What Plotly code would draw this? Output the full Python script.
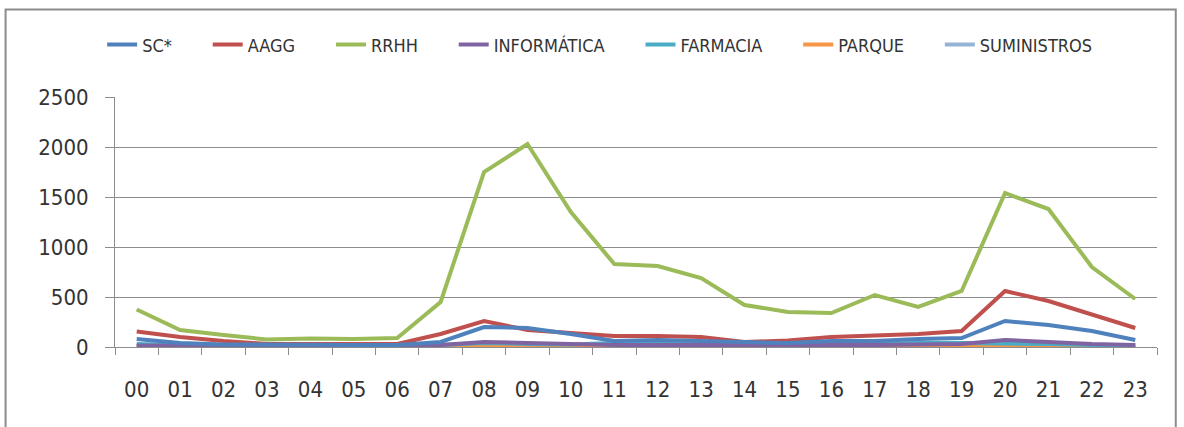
import plotly.graph_objects as go

# horas del día
horas = ['00', '01', '02', '03', '04', '05', '06', '07', '08', '09', '10', '11',
         '12', '13', '14', '15', '16', '17', '18', '19', '20', '21', '22', '23']

# valores
sc = [80, 40, 25, 20, 20, 20, 20, 50, 200, 190, 130, 60,
      70, 60, 40, 40, 60, 60, 80, 90, 260, 220, 160, 70]
aagg = [155, 100, 60, 30, 30, 30, 30, 130, 260, 170, 140, 110,
        110, 100, 50, 65, 100, 110, 130, 160, 560, 460, 330, 190]
rrhh = [375, 170, 120, 75, 85, 80, 90, 450, 1750, 2030, 1350, 830,
        810, 690, 420, 350, 340, 520, 400, 560, 1540, 1380, 800, 480]
informatica = [15, 10, 8, 5, 5, 5, 5, 20, 50, 40, 30, 20,
               20, 20, 10, 15, 20, 20, 25, 30, 70, 45, 30, 20]
farmacia = [30, 15, 10, 8, 8, 8, 8, 20, 40, 30, 25, 40,
            50, 40, 20, 20, 30, 30, 40, 40, 40, 30, 20, 15]
parque = [5, 3, 2, 2, 2, 2, 2, 5, 10, 10, 8, 6,
          6, 6, 4, 4, 5, 5, 6, 8, 12, 10, 8, 5]
suministros = [10, 5, 4, 3, 3, 3, 3, 8, 15, 12, 10, 8,
               8, 8, 5, 6, 8, 8, 10, 10, 15, 12, 10, 8]

series = [
    ('SC*', sc, '#4F81BD'),
    ('AAGG', aagg, '#C0504D'),
    ('RRHH', rrhh, '#9BBB59'),
    ('INFORMÁTICA', informatica, '#8064A2'),
    ('FARMACIA', farmacia, '#4BACC6'),
    ('PARQUE', parque, '#F79646'),
    ('SUMINISTROS', suministros, '#95B3D7'),
]

FUENTE = 'DejaVu Sans Condensed, Roboto, sans-serif'
ESPACIO = '\u00a0' * 6

fig = go.Figure()
# dibujar en orden inverso para que SC*/AAGG/RRHH queden encima
for nombre, valores, color in reversed(series):
    fig.add_trace(go.Scatter(
        x=horas, y=valores, name=nombre + ESPACIO, mode='lines',
        line=dict(color=color, width=4),
    ))

fig.update_layout(
    width=1184, height=427,
    margin=dict(l=115, r=27, t=97, b=80),
    paper_bgcolor='white', plot_bgcolor='white',
    font=dict(family=FUENTE, color='#222222'),
    showlegend=True,
    legend=dict(orientation='h', x=0.48, xanchor='center', yref='container',
                y=0.895, yanchor='middle', traceorder='reversed',
                bgcolor='rgba(0,0,0,0)',
                font=dict(size=18, color='#333333'), tracegroupgap=0),
    xaxis=dict(type='category', range=[-0.5, 23.5], showgrid=False, showline=True,
               linecolor='#8c8c8c', linewidth=1, ticks='outside',
               tickson='boundaries', ticklen=7, tickcolor='#8c8c8c',
               tickfont=dict(size=22, family=FUENTE, color='#333333'),
               ticklabelstandoff=23),
    yaxis=dict(range=[0, 2500], dtick=500, showgrid=True, gridcolor='#8c8c8c',
               gridwidth=1, showline=True, linecolor='#8c8c8c', linewidth=1,
               ticks='outside', ticklen=9, tickcolor='#8c8c8c',
               tickfont=dict(size=22, family=FUENTE, color='#333333'),
               zeroline=False, ticklabelstandoff=12),
)

# marco exterior del gráfico
fig.add_shape(type='rect', xref='paper', yref='paper',
              x0=-0.105, x1=1.018, y0=-0.33, y1=1.35,
              line=dict(color='#8c8c8c', width=2), layer='below')

# quitar el margen del body para que la figura quede en (0, 0)
fig.write_html('out.html', config={'displayModeBar': False},
               post_script="document.body.style.margin='0';")
